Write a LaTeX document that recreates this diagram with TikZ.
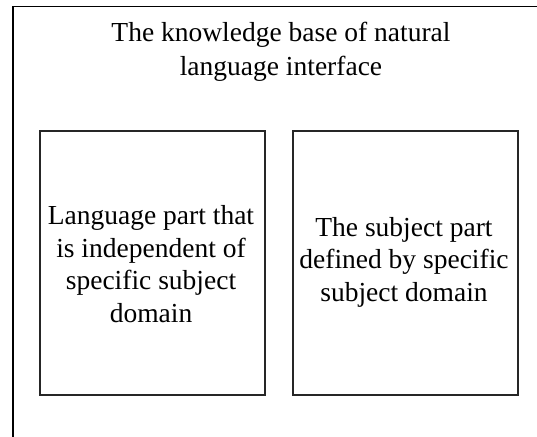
\documentclass[tikz,border=0pt]{standalone}
\usepackage{fontspec}
\setmainfont{Liberation Serif}
\begin{document}
\begin{tikzpicture}[x=1pt,y=-1pt,
  boxstyle/.style={draw=black!85, line width=1.3pt},
  txt/.style={align=center, font=\fontsize{27.5}{32.5}\selectfont, inner sep=0pt}]
\useasboundingbox (0,0) rectangle (537,436);
\clip (0,0) rectangle (537,436);
\draw[line width=1.4pt] (13,452) -- (13,6.5) -- (560,6.5);
\node[txt, font=\fontsize{27.5}{34}\selectfont] (title) at (281,52) {The knowledge base of natural\\language interface};
\draw[boxstyle] (40,131) rectangle (265,395);
\node[txt] (left) at (151,264) {Language part that\\is independent of\\specific subject\\domain};
\draw[boxstyle] (293,131) rectangle (518,395);
\node[txt] (right) at (404,262) {The subject part\\defined by specific\\subject domain};
\end{tikzpicture}
\end{document}
